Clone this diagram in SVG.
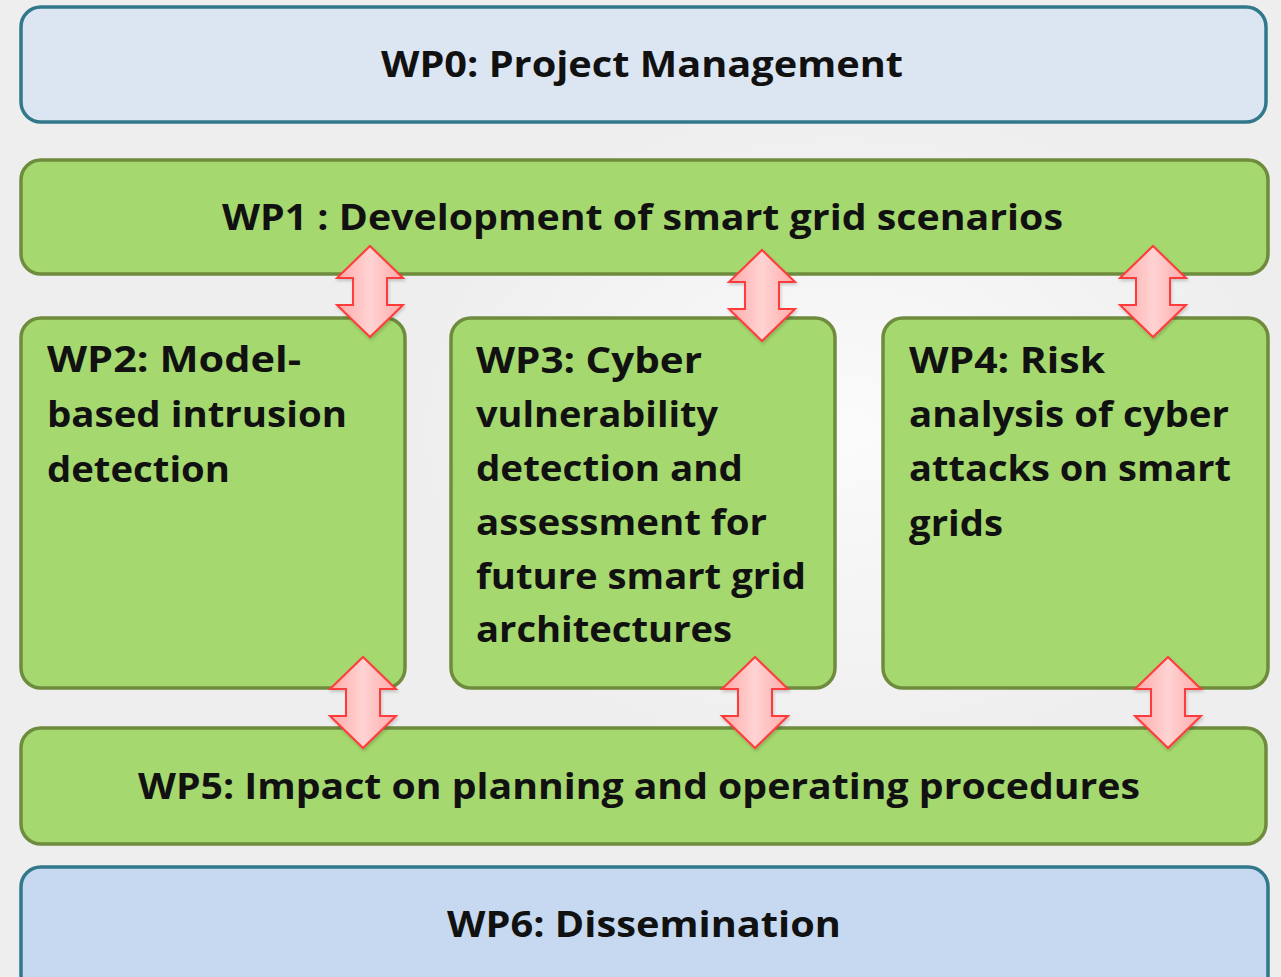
<svg xmlns="http://www.w3.org/2000/svg" xmlns:xlink="http://www.w3.org/1999/xlink" width="1281" height="977" viewBox="0 0 1281 977">
  <style>
    .blue { stroke: #31798a; stroke-width: 3.5; }
    .green { fill: #a5d86e; stroke: #6f8b3d; stroke-width: 3.5; }
    .label { font-family: "Open Sans", "Liberation Sans", sans-serif; font-weight: bold; font-size: 36px; fill: #111111; }
    .arrow { fill: url(#arrowFill); stroke: #ff3a3a; stroke-width: 2; stroke-linejoin: miter; }
  </style>
  <defs>
    <linearGradient id="arrowFill" x1="0" y1="0" x2="1" y2="0">
      <stop offset="0" stop-color="#ffa9a9"/>
      <stop offset="0.5" stop-color="#ffd3d3"/>
      <stop offset="1" stop-color="#ffa9a9"/>
    </linearGradient>
    <radialGradient id="bgGlow" cx="0.66" cy="0.44" r="0.35">
      <stop offset="0" stop-color="#fbfbfb"/>
      <stop offset="1" stop-color="#eeeeee"/>
    </radialGradient>
    <filter id="soft" x="-20%" y="-20%" width="140%" height="140%">
      <feDropShadow dx="1" dy="2" stdDeviation="1.5" flood-color="#000000" flood-opacity="0.18"/>
    </filter>
    <!-- double-headed vertical arrow, top tip at (0,0) -->
    <polygon id="dblArrow" class="arrow" points="0,0 33,32 17,32 17,59 33,59 0,91 -33,59 -17,59 -17,32 -33,32"/>
  </defs>

  <rect x="0" y="0" width="1281" height="977" fill="#eeeeee"/>
  <rect x="0" y="0" width="1281" height="977" fill="url(#bgGlow)"/>

  <g id="wp0">
    <rect class="blue" x="21" y="7" width="1245" height="115" rx="20" fill="#dce6f2"/>
    <text class="label" x="381" y="77" textLength="522" lengthAdjust="spacingAndGlyphs">WP0: Project Management</text>
  </g>

  <g id="wp1">
    <rect class="green" x="21" y="160" width="1247" height="114" rx="20"/>
    <text class="label" x="222" y="230" textLength="841" lengthAdjust="spacingAndGlyphs">WP1 : Development of smart grid scenarios</text>
  </g>

  <g id="wp2">
    <rect class="green" x="21" y="318" width="384" height="370" rx="20"/>
    <text class="label" x="47" y="372" textLength="254" lengthAdjust="spacingAndGlyphs">WP2: Model-</text>
    <text class="label" x="47" y="427" textLength="300" lengthAdjust="spacingAndGlyphs">based intrusion</text>
    <text class="label" x="47" y="482" textLength="183" lengthAdjust="spacingAndGlyphs">detection</text>
  </g>

  <g id="wp3">
    <rect class="green" x="451" y="318" width="384" height="370" rx="20"/>
    <text class="label" x="476" y="373" textLength="226" lengthAdjust="spacingAndGlyphs">WP3: Cyber</text>
    <text class="label" x="476" y="427" textLength="242" lengthAdjust="spacingAndGlyphs">vulnerability</text>
    <text class="label" x="476" y="481" textLength="267" lengthAdjust="spacingAndGlyphs">detection and</text>
    <text class="label" x="476" y="535" textLength="291" lengthAdjust="spacingAndGlyphs">assessment for</text>
    <text class="label" x="476" y="589" textLength="330" lengthAdjust="spacingAndGlyphs">future smart grid</text>
    <text class="label" x="476" y="642" textLength="256" lengthAdjust="spacingAndGlyphs">architectures</text>
  </g>

  <g id="wp4">
    <rect class="green" x="883" y="318" width="385" height="370" rx="20"/>
    <text class="label" x="909" y="373" textLength="196" lengthAdjust="spacingAndGlyphs">WP4: Risk</text>
    <text class="label" x="909" y="427" textLength="320" lengthAdjust="spacingAndGlyphs">analysis of cyber</text>
    <text class="label" x="909" y="481" textLength="322" lengthAdjust="spacingAndGlyphs">attacks on smart</text>
    <text class="label" x="909" y="536" textLength="94" lengthAdjust="spacingAndGlyphs">grids</text>
  </g>

  <g id="wp5">
    <rect class="green" x="21" y="728" width="1245" height="116" rx="20"/>
    <text class="label" x="138" y="799" textLength="1002" lengthAdjust="spacingAndGlyphs">WP5: Impact on planning and operating procedures</text>
  </g>

  <g id="wp6">
    <rect class="blue" x="21" y="867" width="1247" height="130" rx="20" fill="#c6d9f0"/>
    <text class="label" x="447" y="937" textLength="394" lengthAdjust="spacingAndGlyphs">WP6: Dissemination</text>
  </g>

  <g id="connectors" filter="url(#soft)">
    <use xlink:href="#dblArrow" transform="translate(370,246)"/>
    <use xlink:href="#dblArrow" transform="translate(762,250)"/>
    <use xlink:href="#dblArrow" transform="translate(1153,246)"/>
    <use xlink:href="#dblArrow" transform="translate(363,657)"/>
    <use xlink:href="#dblArrow" transform="translate(755,657)"/>
    <use xlink:href="#dblArrow" transform="translate(1168,657)"/>
  </g>
</svg>
